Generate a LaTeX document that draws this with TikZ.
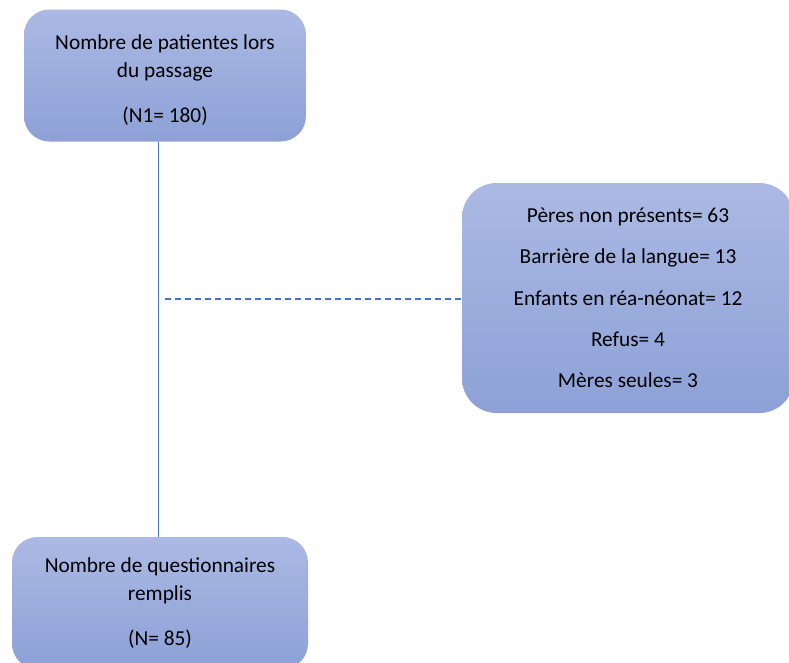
\documentclass[tikz,border=0pt]{standalone}
\usepackage{fontspec}
\setmainfont{Carlito}

\definecolor{boxtop}{HTML}{ABB9E3}
\definecolor{boxbot}{HTML}{8DA1D7}
\definecolor{flowline}{HTML}{4472C4}

\tikzset{
  flowbox/.style={rounded corners=19pt,top color=boxtop,bottom color=boxbot,
    draw=none,align=center,inner sep=0pt,
    font=\fontsize{16}{21}\selectfont},
}

\begin{document}
\begin{tikzpicture}[x=0.75pt,y=-0.75pt]
  \useasboundingbox (0,0) rectangle (789,662);
  \clip (0,0) rectangle (789,662);

  \node (patients) at (165,75.5) [flowbox,minimum width=211.5pt,minimum height=99pt]
    {\rule{0pt}{0pt}\\[-3pt]Nombre de patientes lors\\du passage\\[13pt](N1= 180)};
  \node (exclus) at (628,298) [flowbox,rounded corners=26pt,minimum width=249pt,minimum height=172.5pt,
    font=\fontsize{16}{31}\selectfont]
    {Pères non présents= 63\\Barrière de la langue= 13\\Enfants en réa-néonat= 12\\Refus= 4\\Mères seules= 3};
  \node (remplis) at (160,603) [flowbox,minimum width=222pt,minimum height=99pt]
    {Nombre de questionnaires\\remplis\\[13pt](N= 85)};

  \coordinate (split) at (165,299);
  \coordinate (trunk) at (158,0);

  \draw[flowline,line width=0.75pt] (patients.south -| trunk) -- (remplis.north -| trunk);
  \draw[flowline,line width=1.1pt,dash pattern=on 4.5pt off 3pt] (split) -- (split -| exclus.west);

\end{tikzpicture}
\end{document}
